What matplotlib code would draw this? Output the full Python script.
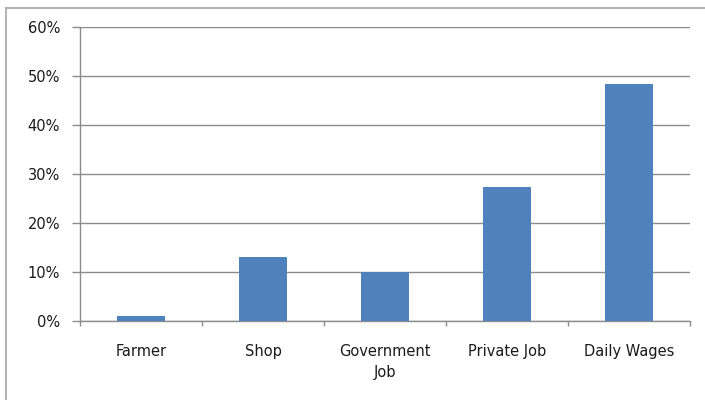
import matplotlib

matplotlib.use("Agg")

import matplotlib.pyplot as plt
from matplotlib.lines import Line2D
from matplotlib.ticker import FixedLocator, PercentFormatter

categories = ["Farmer", "Shop", "Government\nJob", "Private Job", "Daily Wages"]
shares = [1, 13, 10, 27.3, 48.3]
y_ticks = [0, 10, 20, 30, 40, 50, 60]

bar_color = "#4F81BD"
grid_color = "#8C8C8C"
text_color = "#1A1A1A"

fig = plt.figure(figsize=(7.05, 4.0), dpi=100)
ax = fig.add_axes([80 / 705, 79.3 / 400, 610 / 705, 293.7 / 400])

x = list(range(len(categories)))
ax.bar(x, shares, width=0.4, color=bar_color, zorder=3)

ax.set_xlim(-0.5, len(categories) - 0.5)
ax.set_ylim(0, 60)
ax.set_yticks(y_ticks)
ax.yaxis.set_major_formatter(PercentFormatter(decimals=0))
ax.grid(axis="y", color=grid_color, linewidth=1.0, zorder=0)

ax.set_xticks(x)
ax.set_xticklabels(categories, linespacing=1.55)
ax.xaxis.set_minor_locator(FixedLocator([i - 0.5 for i in range(len(categories) + 1)]))
ax.tick_params(axis="x", which="major", length=0, pad=16.5)
ax.tick_params(axis="x", which="minor", length=3.6, color=grid_color, width=1.0)
ax.tick_params(axis="y", length=5.8, color=grid_color, width=1.0, pad=8.6)
for lbl in ax.get_xticklabels() + ax.get_yticklabels():
    lbl.set_fontsize(10.5)
    lbl.set_color(text_color)
    lbl.set_family("DejaVu Sans")

for side in ("top", "right"):
    ax.spines[side].set_visible(False)
for side in ("left", "bottom"):
    ax.spines[side].set_color(grid_color)
    ax.spines[side].set_linewidth(1.0)

# chart-area frame: top and left edges only
fig.add_artist(Line2D([6 / 705, 1], [1 - 7.5 / 400, 1 - 7.5 / 400], color="#A6A6A6", linewidth=1.2))
fig.add_artist(Line2D([6 / 705, 6 / 705], [0, 1 - 7.5 / 400], color="#A6A6A6", linewidth=1.2))

fig.savefig("out.png", dpi=100)
